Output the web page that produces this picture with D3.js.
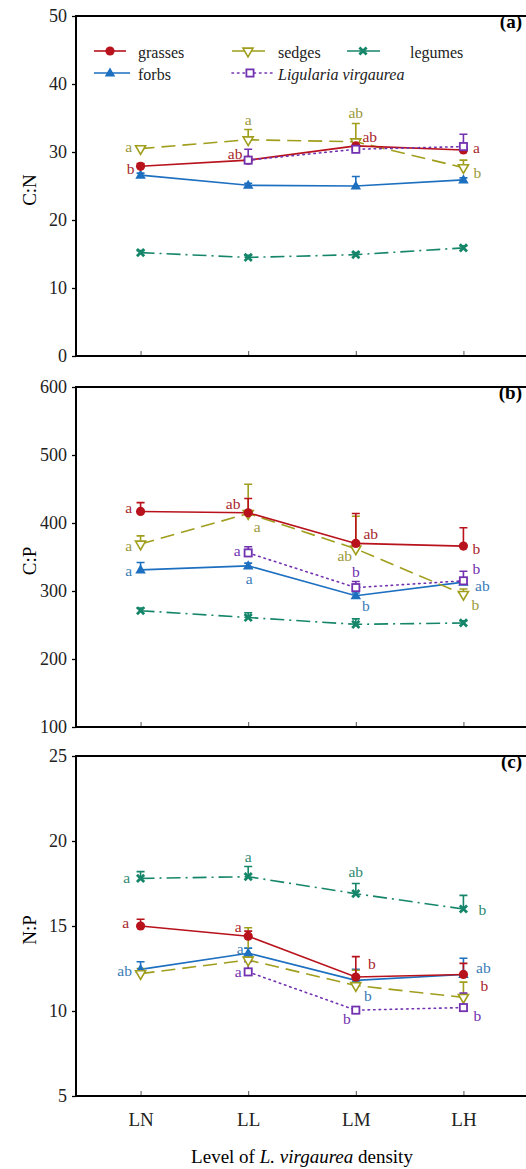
<!DOCTYPE html>
<html>
<head>
<meta charset="utf-8">
<script src="https://cdn.jsdelivr.net/npm/d3@7"></script>
<style>
  body { margin: 0; background: #fff; }
  svg, svg text { font-family: "Liberation Serif", "Times New Roman", serif; }
  svg { display: block; }
  .tick text { font-size: 18px; fill: #222; }
  .letter { font-size: 15.5px; }
</style>
</head>
<body>
<div id="chart"></div>
<script>
// Data: levels of L. virgaurea density and plant functional groups
const levels = ["LN", "LL", "LM", "LH"];
const groups = ["grasses", "forbs", "sedges", "legumes", "Ligularia virgaurea"];

// C:N  (rows follow groups)
const cnMeans = [
  [27.9, 28.8, 30.9, 30.3],
  [26.6, 25.1, 25.0, 25.9],
  [30.5, 31.8, 31.5, 27.7],
  [15.2, 14.5, 14.9, 15.9],
  [null, 28.8, 30.4, 30.8]
];
const cnSE = [
  [0.4, 0.5, 0.5, 0.4],
  [0.3, 0.3, 1.4, 0.3],
  [0.4, 1.5, 2.7, 1.1],
  [0.3, 0.3, 0.3, 0.3],
  [null, 1.6, 0.5, 1.8]
];
const cnLetters = [
  ["b", "ab", "ab", "a"],
  ["", "", "", ""],
  ["a", "a", "ab", "b"],
  ["", "", "", ""],
  ["", "", "", ""]
];
const cnTicks = [0, 10, 20, 30, 40, 50];

// C:P
const cpMeans = [
  [417, 415, 370, 366],
  [331, 337, 293, 313],
  [369, 414, 362, 295],
  [271, 261, 251, 253],
  [null, 356, 305, 315]
];
const cpSE = [
  [13, 21, 44, 27],
  [11, 4, 4, 5],
  [12, 43, 48, 8],
  [4, 7, 8, 3],
  [null, 9, 9, 14]
];
const cpLetters = [
  ["a", "ab", "ab", "b"],
  ["a", "a", "b", "ab"],
  ["a", "a", "ab", "b"],
  ["", "", "", ""],
  ["", "a", "b", "b"]
];
const cpTicks = [100, 200, 300, 400, 500, 600];

// N:P
const npMeans = [
  [15.0, 14.4, 12.0, 12.15],
  [12.45, 13.4, 11.8, 12.15],
  [12.2, 13.0, 11.5, 10.8],
  [17.8, 17.9, 16.9, 16.0],
  [null, 12.3, 10.05, 10.2]
];
const npSE = [
  [0.4, 0.3, 1.2, 0.65],
  [0.45, 0.3, 0.65, 0.95],
  [0.3, 1.9, 0.9, 0.9],
  [0.4, 0.6, 0.6, 0.8],
  [null, 0.6, 0.2, 0.85]
];
const npLetters = [
  ["a", "a", "b", "b"],
  ["ab", "a", "b", "ab"],
  ["", "", "", ""],
  ["a", "a", "ab", "b"],
  ["", "a", "b", "b"]
];
const npTicks = [5, 10, 15, 20, 25];

// Layout: letter offsets (px) from their point
const cnOffsets = [
  [[-10, 2], [-13, -7], [14, -9], [13, -2]],
  [null, null, null, null],
  [[-12, -2], [0, -20], [0, -29], [14, 5]],
  [null, null, null, null],
  [null, null, null, null]
];
const cpOffsets = [
  [[-12, -4], [-15, -9], [15, -10], [13, 2]],
  [[-12, 1], [1, 13], [10, 10], [19, 3]],
  [[-12, 1], [9, 13], [-11, 7], [12, 10]],
  [null, null, null, null],
  [null, [-11, -2], [0, -16], [13, -12]]
];
const npOffsets = [
  [[-15, -4], [-10, -10], [16, -14], [21, 11]],
  [[-16, 1], [-8, -5], [12, 15], [20, -7]],
  [null, null, null, null],
  [[-14, -1], [0, -20], [0, -22], [19, 0]],
  [null, [-10, 0], [-9, 8], [14, 8]]
];

const colors = ["#b8121c", "#1d6fc0", "#a09e1c", "#16866a", "#7232b0"];
const labelColors = ["#a8282c", "#3a7cb8", "#9c9a3c", "#2e8a72", "#7232b0"];
const dashes = [null, null, "14,7", "14,5,2,5", "1.5,4"];

const W = 526, H = 1169;
const left = 76, right = 528;
const panelTops = [16, 387, 756];
const panelH = 340;

const panels = [
  { means: cnMeans, se: cnSE, letters: cnLetters, offsets: cnOffsets, ticks: cnTicks, title: "C:N", tag: "(a)" },
  { means: cpMeans, se: cpSE, letters: cpLetters, offsets: cpOffsets, ticks: cpTicks, title: "C:P", tag: "(b)" },
  { means: npMeans, se: npSE, letters: npLetters, offsets: npOffsets, ticks: npTicks, title: "N:P", tag: "(c)" }
];

const serif = "'Liberation Serif', 'Times New Roman', serif";

const svg = d3.select("#chart").append("svg")
  .attr("width", W)
  .attr("height", H)
  .attr("font-family", serif)
  .style("background", "#fff");

const x = d3.scalePoint().domain(levels).range([left, right]).padding(0.6);

// marker drawing
function marker(g, i, cx, cy) {
  const c = colors[i];
  if (i === 0) {
    g.append("circle").attr("cx", cx).attr("cy", cy).attr("r", 4.6).attr("fill", c);
  } else if (i === 1) {
    g.append("path").attr("d", d3.symbol(d3.symbolTriangle, 48)())
      .attr("transform", `translate(${cx},${cy + 0.5})`).attr("fill", c);
  } else if (i === 2) {
    g.append("path").attr("d", d3.symbol(d3.symbolTriangle, 44)())
      .attr("transform", `translate(${cx},${cy}) rotate(180)`)
      .attr("fill", "#fff").attr("stroke", c).attr("stroke-width", 1.6);
  } else if (i === 3) {
    g.append("path").attr("d", "M-3.6,-3.6L3.6,3.6M-3.6,3.6L3.6,-3.6")
      .attr("transform", `translate(${cx},${cy})`)
      .attr("stroke", c).attr("stroke-width", 2.8).attr("fill", "none");
  } else {
    g.append("rect").attr("x", cx - 3.6).attr("y", cy - 3.6).attr("width", 7.2).attr("height", 7.2)
      .attr("fill", "#fff").attr("stroke", c).attr("stroke-width", 1.8);
  }
}

panels.forEach((p, pi) => {
  const top = panelTops[pi], bottom = top + panelH;
  const y = d3.scaleLinear().domain(d3.extent(p.ticks)).range([bottom, top]);
  const g = svg.append("g");

  // y axis
  const ya = g.append("g")
    .attr("transform", `translate(${left},0)`)
    .call(d3.axisLeft(y).tickValues(p.ticks).tickSize(4).tickPadding(5))
    .attr("font-family", serif);
  ya.select(".domain").remove();
  ya.selectAll(".tick line").attr("stroke", "#000").attr("stroke-width", 1.3);

  // x axis (inward ticks)
  const xa = g.append("g")
    .attr("transform", `translate(0,${bottom})`)
    .call(d3.axisBottom(x).tickSize(-5).tickPadding(17))
    .attr("font-family", serif);
  xa.select(".domain").remove();
  xa.selectAll(".tick line").attr("stroke", "#555").attr("stroke-width", 1);
  if (pi < 2) xa.selectAll(".tick text").remove();
  else xa.selectAll(".tick text").style("font-size", "19px");

  // frame
  g.append("path")
    .attr("d", `M${right},${top}H${left}V${bottom}H${right}`)
    .attr("fill", "none").attr("stroke", "#000").attr("stroke-width", 2);

  // y title
  g.append("text")
    .attr("transform", `translate(29,${(top + bottom) / 2 + 4}) rotate(-90)`)
    .attr("text-anchor", "middle")
    .attr("dominant-baseline", "central")
    .style("font-size", "19px")
    .text(p.title);

  // panel tag
  g.append("text")
    .attr("x", 522).attr("y", top + 12)
    .attr("text-anchor", "end")
    .style("font-size", "19px").style("font-weight", "bold")
    .text(p.tag);

  const line = d3.line()
    .defined(d => d.v != null)
    .x(d => x(d.level))
    .y(d => y(d.v));

  const drawOrder = [3, 1, 2, 0, 4];

  drawOrder.forEach(i => {
    const pts = levels.map((lv, j) => ({ level: lv, v: p.means[i][j] }));
    g.append("path")
      .attr("d", line(pts))
      .attr("fill", "none")
      .attr("stroke", colors[i])
      .attr("stroke-width", 1.6)
      .attr("stroke-linecap", i === 4 ? "round" : "butt")
      .attr("stroke-dasharray", dashes[i]);
  });

  // error bars (upper only)
  drawOrder.forEach(i => {
    levels.forEach((lv, j) => {
      const m = p.means[i][j], s = p.se[i][j];
      if (m == null || s == null) return;
      const cx = x(lv), y0 = y(m), y1 = y(m + s);
      g.append("path")
        .attr("d", `M${cx},${y0}V${y1}M${cx - 4},${y1}H${cx + 4}`)
        .attr("stroke", colors[i]).attr("stroke-width", 1.6).attr("fill", "none");
    });
  });

  // markers
  drawOrder.forEach(i => {
    levels.forEach((lv, j) => {
      const m = p.means[i][j];
      if (m == null) return;
      marker(g, i, x(lv), y(m));
    });
  });

  // significance letters
  groups.forEach((grp, i) => {
    levels.forEach((lv, j) => {
      const t = p.letters[i][j], off = p.offsets[i][j];
      if (!t || !off) return;
      g.append("text")
        .attr("class", "letter")
        .attr("x", x(lv) + off[0])
        .attr("y", y(p.means[i][j]) + off[1])
        .attr("text-anchor", "middle")
        .attr("dominant-baseline", "central")
        .attr("fill", labelColors[i])
        .text(t);
    });
  });
});

// legend (in panel a)
const legCol = [94, 232, 347];
const legText = [138, 278, 410];
const legRow = [51, 73];
const legPos = [[0, 0], [0, 1], [1, 0], [2, 0], [1, 1]];
const legLen = [32, 36, 35, 33, 40];
const leg = svg.append("g");
groups.forEach((grp, i) => {
  const [c, r] = legPos[i];
  const x0 = legCol[c], yy = legRow[r];
  leg.append("line")
    .attr("x1", x0).attr("x2", x0 + legLen[i])
    .attr("y1", yy).attr("y2", yy)
    .attr("stroke", colors[i]).attr("stroke-width", 1.6)
    .attr("stroke-linecap", i === 4 ? "round" : "butt")
    .attr("stroke-dasharray", i === 2 ? "14,5" : i === 3 ? null : dashes[i]);
  marker(leg, i, x0 + (i === 4 ? 18 : 16), yy);
  leg.append("text")
    .attr("x", legText[c]).attr("y", yy + 1)
    .attr("dominant-baseline", "central")
    .style("font-size", "16px")
    .style("font-style", i === 4 ? "italic" : "normal")
    .attr("fill", "#222")
    .text(grp);
});

// x title
const xt = svg.append("text")
  .attr("x", 302).attr("y", 1163)
  .attr("text-anchor", "middle")
  .style("font-size", "19px");
xt.append("tspan").text("Level of ");
xt.append("tspan").style("font-style", "italic").text("L. virgaurea");
xt.append("tspan").text(" density");
</script>
</body>
</html>
